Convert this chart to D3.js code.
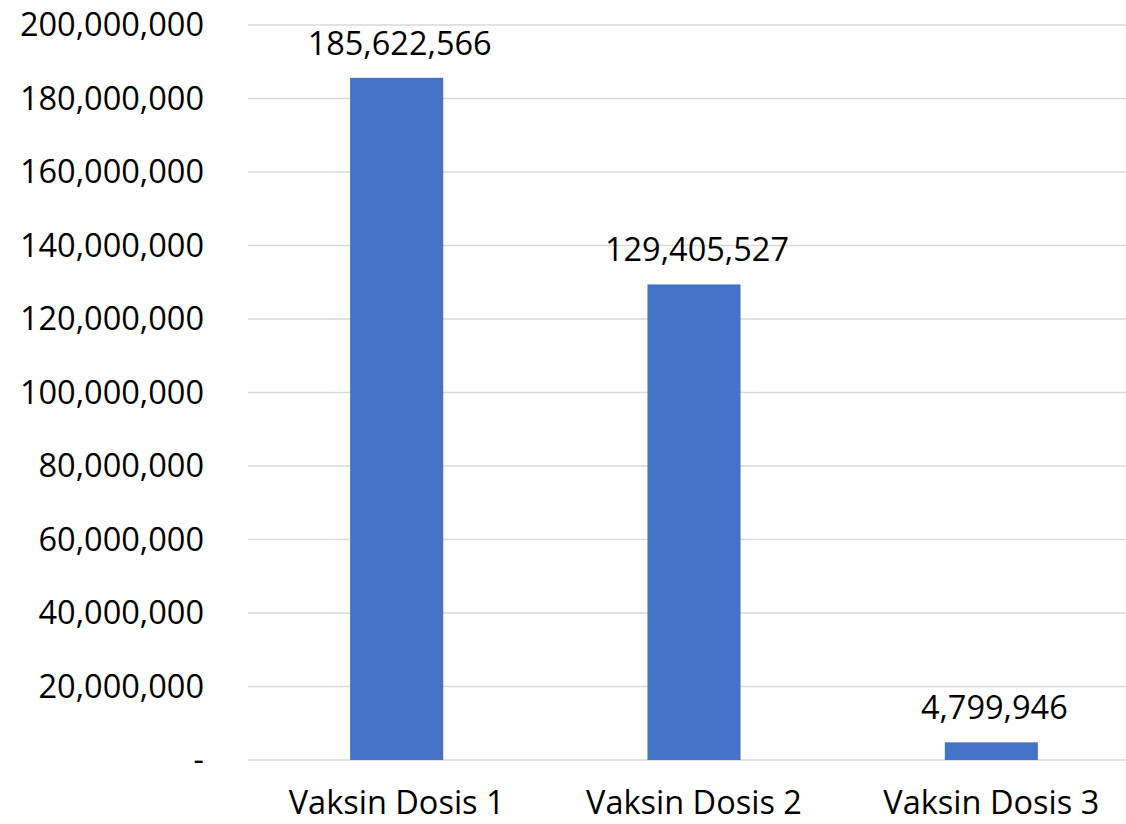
<!DOCTYPE html>
<html>
<head>
<meta charset="utf-8">
<script src="https://cdn.jsdelivr.net/npm/d3@7"></script>
<style>
  body { margin: 0; background: white; }
  text { font-family: "Open Sans", sans-serif; fill: #000; }
</style>
</head>
<body>
<div id="viz-container"></div>
<script>
let w = 1126;
let h = 824;

let categories = ["Vaksin Dosis 1", "Vaksin Dosis 2", "Vaksin Dosis 3"];
let values = [185622566, 129405527, 4799946];
let tickValues = [0, 20000000, 40000000, 60000000, 80000000, 100000000, 120000000, 140000000, 160000000, 180000000, 200000000];

let viz = d3.select("#viz-container")
  .append("svg")
    .attr("width", w)
    .attr("height", h)
    .style("background-color", "white");

let x = d3.scaleBand()
  .domain(categories)
  .range([248, 1140])
  .paddingInner(0.687)
  .paddingOuter(0.3435);

let y = d3.scaleLinear()
  .domain([0, 200000000])
  .range([760, 25]);

let fmt = d3.format(",");

// gridlines
viz.append("g")
  .selectAll("line")
  .data(tickValues)
  .enter()
  .append("line")
    .attr("x1", 248)
    .attr("x2", 1140)
    .attr("y1", d => y(d))
    .attr("y2", d => y(d))
    .attr("stroke", "#d9d9d9")
    .attr("stroke-width", 1.5);

// y axis labels
viz.append("g")
  .selectAll("text")
  .data(tickValues)
  .enter()
  .append("text")
    .attr("x", 204)
    .attr("y", d => y(d))
    .attr("dy", "0.35em")
    .attr("text-anchor", "end")
    .style("font-size", "32.5px")
    .text(d => d == 0 ? "-" : fmt(d));

// bars
let bars = viz.append("g")
  .selectAll("g")
  .data(values)
  .enter()
  .append("g");

bars.append("rect")
  .attr("x", (d, i) => x(categories[i]))
  .attr("width", x.bandwidth())
  .attr("y", d => y(d))
  .attr("height", d => y(0) - y(d))
  .attr("fill", "#4472C4");

bars.append("text")
  .attr("x", (d, i) => x(categories[i]) + x.bandwidth() / 2 + 3)
  .attr("y", d => y(d) - 23)
  .attr("text-anchor", "middle")
  .style("font-size", "32.5px")
  .text(d => fmt(d));

// category labels
viz.append("g")
  .selectAll("text")
  .data(categories)
  .enter()
  .append("text")
    .attr("x", d => x(d) + x.bandwidth() / 2)
    .attr("y", 814)
    .attr("text-anchor", "middle")
    .style("font-size", "32.5px")
    .text(d => d);
</script>
</body>
</html>
